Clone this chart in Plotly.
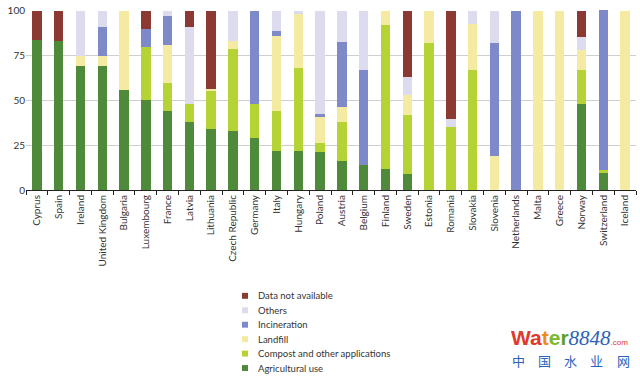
import plotly.graph_objects as go

countries = ["Cyprus", "Spain", "Ireland", "United Kingdom", "Bulgaria", "Luxembourg",
             "France", "Latvia", "Lithuania", "Czech Republic", "Germany", "Italy",
             "Hungary", "Poland", "Austria", "Belgium", "Finland", "Sweden", "Estonia",
             "Romania", "Slovakia", "Slovenia", "Netherlands", "Malta", "Greece",
             "Norway", "Switzerland", "Iceland"]

agricultural = [84, 83, 69, 69, 56, 50, 44, 38, 34, 33, 29, 22, 22, 21, 16, 14, 12, 9, 0,
                0, 0, 0, 0, 0, 0, 48, 9.5, 0]
compost = [0, 0, 0, 0, 0, 30, 16, 10, 21, 46, 19, 22, 46, 5, 22, 0, 80, 33, 82,
           35, 67, 0, 0, 0, 0, 19, 1.5, 0]
landfill = [0, 0, 6, 6, 44, 0, 21, 0, 1.5, 4, 0, 42, 30, 14.5, 8.5, 0, 8, 11, 18,
            0, 25.5, 19, 0, 100, 100, 11, 0, 100]
incineration = [0, 0, 0, 16, 0, 10, 16, 0, 0, 0, 52, 2.5, 0, 2, 36, 53, 0, 0, 0,
                0, 0, 63, 100, 0, 0, 0, 89.5, 0]
others = [0, 0, 25, 9, 0, 0, 3, 43, 0, 17, 0, 11.5, 2, 57.5, 17.5, 33, 0, 10, 0,
          4.5, 7.5, 18, 0, 0, 0, 7.5, 0, 0]
not_available = [16, 17, 0, 0, 0, 10, 0, 9, 43.5, 0, 0, 0, 0, 0, 0, 0, 0, 37, 0,
                 60.5, 0, 0, 0, 0, 0, 14.5, 0, 0]

series_names = ["Agricultural use", "Compost and other applications", "Landfill",
                "Incineration", "Others", "Data not available"]
series_values = [agricultural, compost, landfill, incineration, others, not_available]
colors = ["#4f8a3b", "#b6d335", "#f4eaa2", "#7d89c8", "#dddcef", "#8a3a33"]

y_ticks = [0, 25, 50, 75, 100]
watermark_cn = ["中", "国", "水", "业", "网"]

FONT = "Lato"
fig = go.Figure()
for name, vals, col in zip(series_names, series_values, colors):
    fig.add_trace(go.Bar(x=countries, y=vals, name=name, marker_color=col,
                         marker_line_width=0, showlegend=False))

W, H = 640, 377
ml, mr, mt, mb = 26, 4, 8, 187
fig.update_layout(
    width=W, height=H, barmode="stack", bargap=0.57,
    margin=dict(l=ml, r=mr, t=mt, b=mb),
    plot_bgcolor="white", paper_bgcolor="white",
    font=dict(family=FONT, size=10, color="#333333"),
)
fig.update_xaxes(type="category", showline=True, linecolor="#222222", linewidth=1,
                 ticks="outside", tickson="boundaries", ticklen=4, tickcolor="#222222",
                 tickangle=-90, tickfont=dict(size=10, color="#333333"), showgrid=False)
fig.update_yaxes(range=[0, 100.5], tickvals=y_ticks, showgrid=True, gridcolor="#cfcfcf",
                 gridwidth=1, zeroline=False, showline=False,
                 tickfont=dict(size=10, color="#333333"))

pw = W - ml - mr
ph = H - mt - mb
def px_to_paper(x, y):
    return (x - ml) / pw, (H - mb - y) / ph

# manual legend (top to bottom)
legend_order = list(zip(series_names, colors))[::-1]
for i, (name, col) in enumerate(legend_order):
    cy = 297 + i * 14.6
    x0, y0 = px_to_paper(242, cy - 3)
    x1, y1 = px_to_paper(248, cy + 3)
    fig.add_shape(type="rect", xref="paper", yref="paper", x0=x0, x1=x1, y0=y1, y1=y0,
                  fillcolor=col, line_width=0)
    tx, ty = px_to_paper(256, cy)
    fig.add_annotation(xref="paper", yref="paper", x=tx, y=ty, text=name,
                       showarrow=False, xanchor="left", yanchor="middle",
                       font=dict(size=9.5, color="#333333", family=FONT))

# watermark
wx, wy = px_to_paper(510, 340)
fig.add_annotation(
    xref="paper", yref="paper", x=wx, y=wy, xanchor="left", yanchor="middle", showarrow=False,
    borderpad=0,
    text=("<b><span style='color:#e0392e'>Wa</span><span style='color:#f08a1c'>t</span>"
          "<span style='color:#7cb82f'>e</span><span style='color:#5aa02c'>r</span></b>"
          "<i><span style='color:#2a62b8;font-family:Liberation Serif'>8848</span></i>"
          "<span style='color:#e0392e;font-size:8px'>.com</span>"),
    font=dict(size=21, family="Liberation Sans"))
for i, ch in enumerate(watermark_cn):
    cx, cy2 = px_to_paper(518 + i * 26.3, 362)
    fig.add_annotation(xref="paper", yref="paper", x=cx, y=cy2, xanchor="center",
                       yanchor="middle", showarrow=False, text=ch, borderpad=0,
                       font=dict(size=13, color="#2a62b8", family="Noto Sans CJK SC"))

fig.write_html("out.html", config={"displayModeBar": False},
               post_script="document.body.style.margin='0';")
